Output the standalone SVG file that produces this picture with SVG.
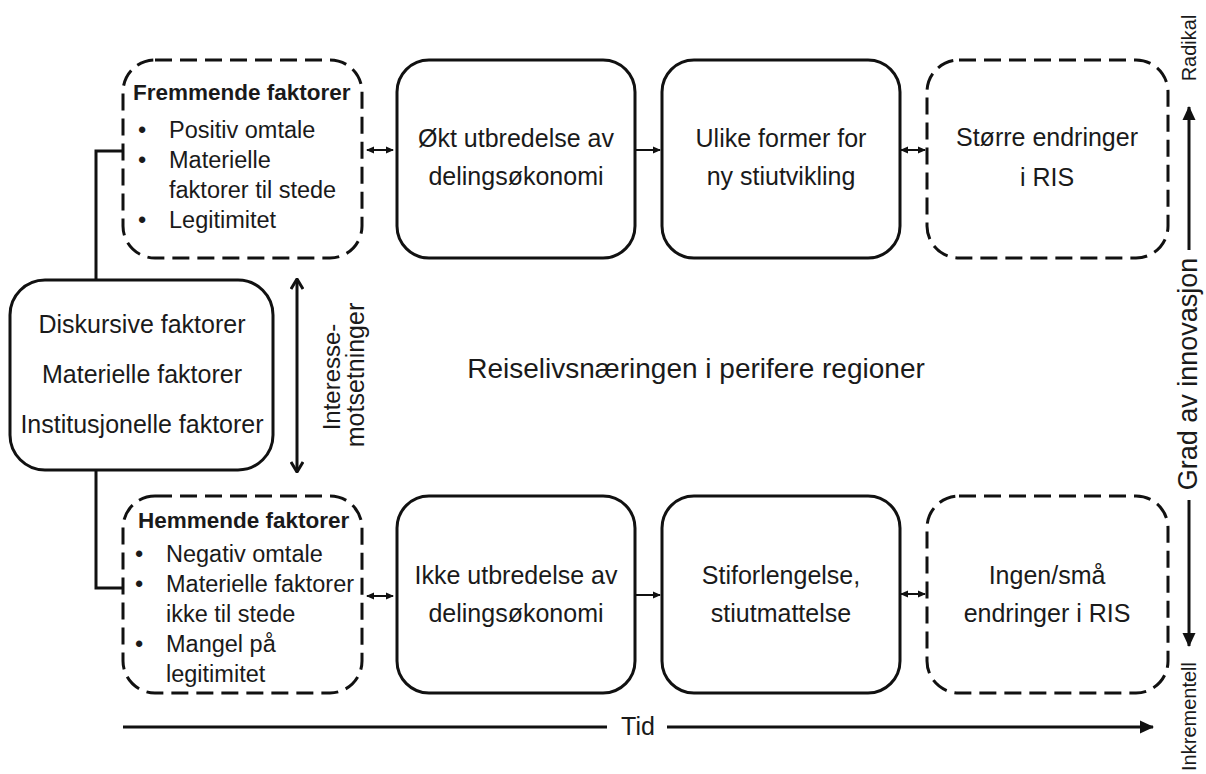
<svg xmlns="http://www.w3.org/2000/svg" width="1206" height="774" viewBox="0 0 1206 774">
<defs>
<style>
text{font-family:"Liberation Sans",Arial,Helvetica,sans-serif;fill:#1a1a1a;}
.t{font-size:25px;text-anchor:middle;}
.b{font-size:23.5px;}
.h{font-size:22.5px;font-weight:bold;}
.box{fill:#fff;stroke:#111;stroke-width:3;}
.dash{fill:#fff;stroke:#111;stroke-width:3;stroke-dasharray:17 8;}
.ln{fill:none;stroke:#111;stroke-width:3;}
.sl{fill:none;stroke:#111;stroke-width:2;}
</style>
<marker id="sa" viewBox="0 0 8 8" refX="7" refY="4" markerWidth="8" markerHeight="8" markerUnits="userSpaceOnUse" orient="auto-start-reverse">
<path d="M0,0.5 L8,4 L0,7.5 Z" fill="#111"/>
</marker>
<marker id="ba" viewBox="0 0 14 14" refX="13" refY="7" markerWidth="14" markerHeight="14" markerUnits="userSpaceOnUse" orient="auto-start-reverse">
<path d="M0,0.5 L14,7 L0,13.5 Z" fill="#111"/>
</marker>
<marker id="ch" viewBox="0 0 12 14" refX="11" refY="7" markerWidth="12" markerHeight="14" markerUnits="userSpaceOnUse" orient="auto-start-reverse">
<path d="M1,1 L11,7 L1,13" fill="none" stroke="#111" stroke-width="3"/>
</marker>
</defs>

<g id="connectors">
<path class="ln" d="M123,151 H96 V280"/>
<path class="ln" d="M96,470 V588 H123"/>
<path class="ln" d="M297,279 V472" marker-start="url(#ch)" marker-end="url(#ch)"/>
<path class="sl" d="M367,150 H393" marker-start="url(#sa)" marker-end="url(#sa)"/>
<path class="sl" d="M636,150 H660" marker-end="url(#sa)"/>
<path class="sl" d="M901,150 H925" marker-start="url(#sa)" marker-end="url(#sa)"/>
<path class="sl" d="M367,596 H393" marker-start="url(#sa)" marker-end="url(#sa)"/>
<path class="sl" d="M636,595 H660" marker-end="url(#sa)"/>
<path class="sl" d="M901,594 H925" marker-start="url(#sa)" marker-end="url(#sa)"/>
<path class="ln" d="M123,727 H607"/>
<path class="ln" d="M667,727 H1153" marker-end="url(#ba)"/>
<path class="ln" d="M1189,250 V107" marker-end="url(#ba)"/>
<path class="ln" d="M1189,500 V646" marker-end="url(#ba)"/>
</g>

<g id="node-fremmende">
<rect class="dash" x="123" y="60" width="239" height="198" rx="32"/>
<text class="h" x="133" y="100">Fremmende faktorer</text>
<text class="b" x="138" y="138">•</text><text class="b" x="169" y="138">Positiv omtale</text>
<text class="b" x="138" y="168">•</text><text class="b" x="169" y="168">Materielle</text>
<text class="b" x="169" y="198">faktorer til stede</text>
<text class="b" x="138" y="228">•</text><text class="b" x="169" y="228">Legitimitet</text>
</g>

<g id="node-okt">
<rect class="box" x="397" y="60" width="238" height="198" rx="32"/>
<text class="t" x="516" y="147">Økt utbredelse av</text>
<text class="t" x="516" y="185">delingsøkonomi</text>
</g>

<g id="node-ulike">
<rect class="box" x="662" y="60" width="238" height="198" rx="32"/>
<text class="t" x="781" y="147">Ulike former for</text>
<text class="t" x="781" y="185">ny stiutvikling</text>
</g>

<g id="node-storre">
<rect class="dash" x="927" y="60" width="241" height="198" rx="32"/>
<text class="t" x="1047" y="146">Større endringer</text>
<text class="t" x="1047" y="186">i RIS</text>
</g>

<g id="node-faktorer">
<rect class="box" x="10" y="280" width="263" height="190" rx="35"/>
<text class="t" x="142" y="333">Diskursive faktorer</text>
<text class="t" x="142" y="383">Materielle faktorer</text>
<text class="t" x="142" y="433">Institusjonelle faktorer</text>
</g>

<g id="label-interesse">
<text class="t" transform="translate(340,377) rotate(-90)" x="0" y="0" style="font-size:24px">Interesse-</text>
<text class="t" transform="translate(364,375) rotate(-90)" x="0" y="0" style="font-size:25px">motsetninger</text>
</g>

<g id="label-reiseliv">
<text class="t" x="696" y="378" style="font-size:28px">Reiselivsnæringen i perifere regioner</text>
</g>

<g id="node-hemmende">
<rect class="dash" x="123" y="496" width="239" height="197" rx="32"/>
<text class="h" x="138" y="528">Hemmende faktorer</text>
<text class="b" x="135" y="562">•</text><text class="b" x="166" y="562">Negativ omtale</text>
<text class="b" x="135" y="592">•</text><text class="b" x="166" y="592">Materielle faktorer</text>
<text class="b" x="166" y="622">ikke til stede</text>
<text class="b" x="135" y="652">•</text><text class="b" x="166" y="652">Mangel på</text>
<text class="b" x="166" y="682">legitimitet</text>
</g>

<g id="node-ikke">
<rect class="box" x="397" y="496" width="238" height="197" rx="32"/>
<text class="t" x="516" y="584">Ikke utbredelse av</text>
<text class="t" x="516" y="622">delingsøkonomi</text>
</g>

<g id="node-stiforlengelse">
<rect class="box" x="662" y="496" width="238" height="197" rx="32"/>
<text class="t" x="781" y="584">Stiforlengelse,</text>
<text class="t" x="781" y="622">stiutmattelse</text>
</g>

<g id="node-ingen">
<rect class="dash" x="927" y="496" width="241" height="197" rx="32"/>
<text class="t" x="1047" y="584">Ingen/små</text>
<text class="t" x="1047" y="622">endringer i RIS</text>
</g>

<g id="axis-labels">
<text class="t" x="638" y="735">Tid</text>
<text class="t" transform="translate(1197,374) rotate(-90)" style="font-size:27px">Grad av innovasjon</text>
<text class="t" transform="translate(1196,48) rotate(-90)" style="font-size:20px">Radikal</text>
<text transform="translate(1196,662) rotate(-90)" style="font-size:20px;text-anchor:end">Inkrementell</text>
</g>
</svg>
